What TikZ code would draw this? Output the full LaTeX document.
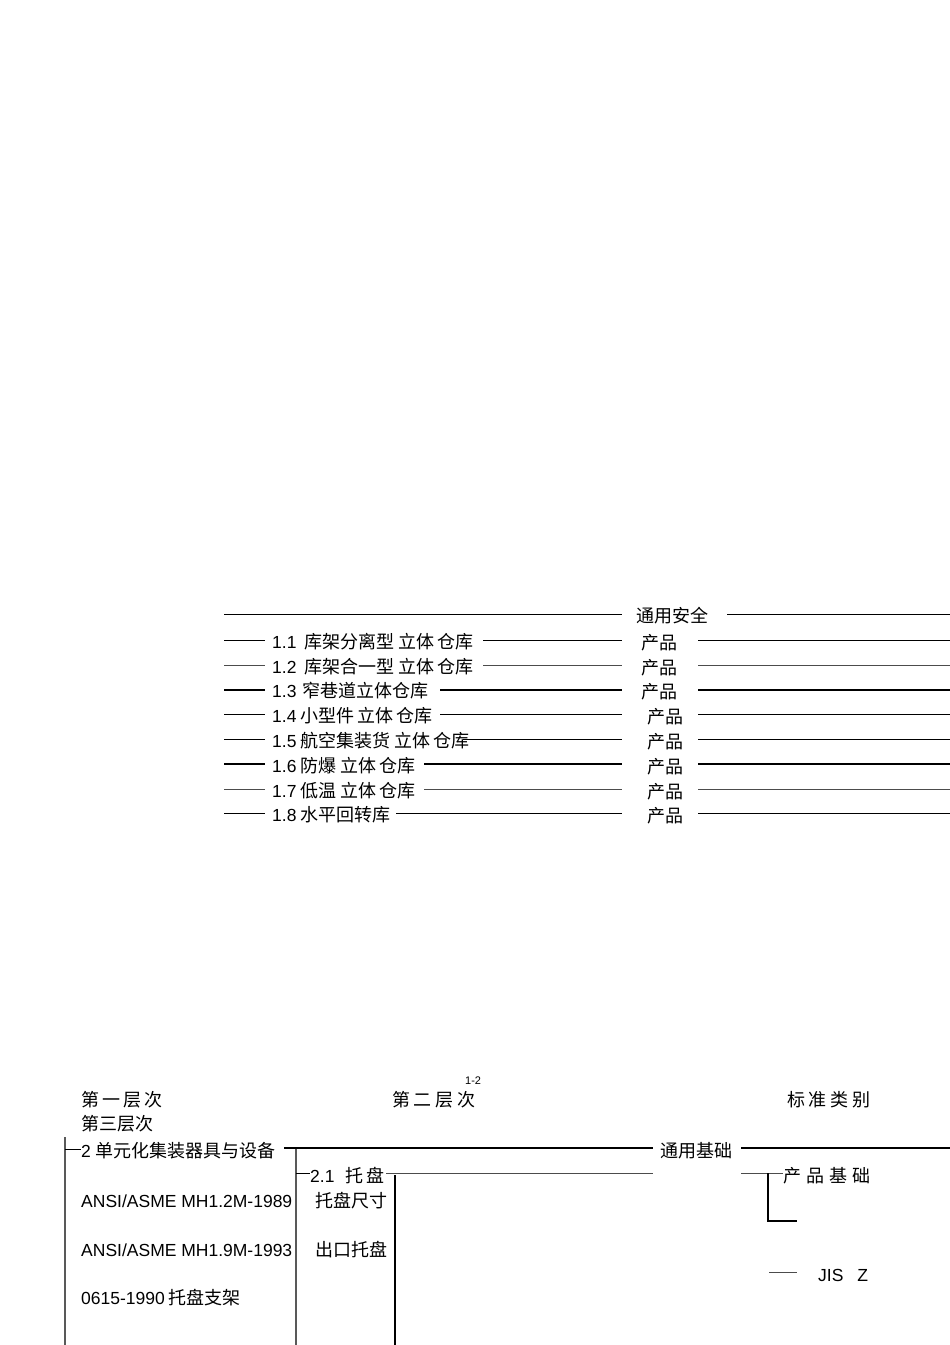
\documentclass[tikz,border=0pt]{standalone}
\usepackage{fontspec}
\usetikzlibrary{calc}
\setmainfont{Liberation Sans}
\newfontfamily\cjkf{Noto Sans CJK SC}
\newcommand\zh[1]{{\cjkf\fontsize{18}{20}\selectfont #1}}
\newcommand\gp[1]{\hspace{#1pt}}
\begin{document}
\begin{tikzpicture}[x=1pt,y=-1pt,
  every node/.style={inner sep=0pt,anchor=west,text height=13.6pt,text depth=0pt,
    font=\fontsize{17.5}{20}\selectfont},
  ln/.style={line width=0.8pt,black},
  lngray/.style={line width=1pt,black!70},
  lnthick/.style={line width=1.6pt,black},
  lnvgray/.style={line width=1.1pt,black!65},
  small/.style={font=\fontsize{11}{13}\selectfont,text height=8pt}]
\useasboundingbox[fill=white] (0,0) rectangle (950,1345);

% ---------- upper block ----------
\node (top) at (636,616) {\zh{通用安全}};
\coordinate (t0) at (224,614); \coordinate (t1) at (622,614);
\coordinate (t2) at (727,614); \coordinate (t3) at (950,614);
\draw[ln] (t0) -- (t1);
\draw[ln] (t2) -- (t3);

% rows: label node r, product node p
\node (r1) at (272,642) {1.1\gp{8}\zh{库架分离型}\gp{4}\zh{立体}\gp{3}\zh{仓库}};
\node (r2) at (272,667) {1.2\gp{8}\zh{库架合一型}\gp{4}\zh{立体}\gp{3}\zh{仓库}};
\node (r3) at (272,691) {1.3\gp{6}\zh{窄巷道立体仓库}};
\node (r4) at (272,716) {1.4\gp{4}\zh{小型件}\gp{3}\zh{立体}\gp{3}\zh{仓库}};
\node (r5) at (272,741) {1.5\gp{4}\zh{航空集装货}\gp{4}\zh{立体}\gp{3}\zh{仓库}};
\node (r6) at (272,766) {1.6\gp{4}\zh{防爆}\gp{4}\zh{立体}\gp{3}\zh{仓库}};
\node (r7) at (272,791) {1.7\gp{4}\zh{低温}\gp{4}\zh{立体}\gp{3}\zh{仓库}};
\node (r8) at (272,815) {1.8\gp{4}\zh{水平回转库}};

\node (p1) at (641,643) {\zh{产品}};
\node (p2) at (641,668) {\zh{产品}};
\node (p3) at (641,692) {\zh{产品}};
\node (p4) at (647,717) {\zh{产品}};
\node (p5) at (647,742) {\zh{产品}};
\node (p6) at (647,767) {\zh{产品}};
\node (p7) at (647,792) {\zh{产品}};
\node (p8) at (647,816) {\zh{产品}};

\foreach \k/\y/\m/\s in {1/640/483/ln,2/665/483/lngray,3/690/440/lnthick,4/714/440/ln,
                        5/739/463/ln,6/764/424/lnthick,7/789/424/lngray,8/813/396/ln}{
  \coordinate (L\k) at (224,\y);
  \coordinate (M\k) at (\m,\y);
  \coordinate (N\k) at (622,\y);
  \coordinate (O\k) at (698,\y);
  \coordinate (E\k) at (950,\y);
  \draw[\s] (L\k) -- ($(r\k.west |- L\k)+(-7,0)$);
  \draw[\s] (M\k) -- (N\k);
  \draw[\s] (O\k) -- (E\k);
}

% ---------- lower block ----------
\node[small] (num) at (465,1080) {1-2};
\node (h1) at (81,1100) {\zh{第\gp{3}一\gp{3}层\gp{3}次}};
\node (h2) at (392,1100) {\zh{第\gp{3.7}二\gp{3.7}层\gp{3.7}次}};
\node (h3) at (787,1100) {\zh{标\gp{3.7}准\gp{3.7}类\gp{3.7}别}};
\node (h4) at (81,1124) {\zh{第三层次}};

\node (u2) at (81,1151) {2\gp{5}\zh{单元化集装器具与设备}};
\node (g1) at (660,1151) {\zh{通用基础}};
\node (u21) at (310,1176) {2.1\gp{11}\zh{托}\gp{3}\zh{盘}};
\node (g2) at (783,1176) {\zh{产\gp{5.2}品\gp{5.2}基\gp{5.2}础}};

\node (a1) at (81,1201) {ANSI/ASME MH1.2M-1989};
\node (b1) at (315,1201) {\zh{托盘尺寸}};
\node (a2) at (81,1250) {ANSI/ASME MH1.9M-1993};
\node (b2) at (315,1250) {\zh{出口托盘}};
\node (a3) at (81,1298) {0615-1990\gp{4}\zh{托盘支架}};
\node (jis) at (818,1275) {JIS\gp{14}Z};

% vertical spines
\coordinate (v1t) at (65,1137);  \coordinate (v1b) at (65,1345);
\coordinate (v2t) at (296,1148); \coordinate (v2b) at (296,1345);
\coordinate (v3t) at (395,1175); \coordinate (v3b) at (395,1345);
\draw[lnvgray] (v1t) -- (v1b);
\draw[lnvgray] (v2t) -- (v2b);
\draw[lnthick] (v3t) -- (v3b);

% ticks into labels
\coordinate (k1) at (65,1149);
\coordinate (k2) at (296,1173);
\draw[ln] (k1) -- (k1 -| u2.west);
\draw[ln] (k2) -- (k2 -| u21.west);

% horizontal links
\coordinate (w1) at (284,1148); \coordinate (w2) at (653,1148);
\coordinate (w3) at (741,1148); \coordinate (w4) at (950,1148);
\draw[lnthick] (w1) -- (w2);
\draw[lnthick] (w3) -- (w4);

\coordinate (x1) at (386,1173); \coordinate (x2) at (653,1173);
\coordinate (x3) at (741,1173); \coordinate (x4) at (783,1173);
\draw[lngray] (x1) -- (x2);
\draw[lngray] (x3) -- (x4);

\coordinate (y1) at (768,1173); \coordinate (y2) at (768,1221); \coordinate (y3) at (797,1221);
\draw[lnthick] (y1) -- (y2) -- (y3);

\coordinate (z1) at (769,1272); \coordinate (z2) at (797,1272);
\draw[lngray] (z1) -- (z2);
\end{tikzpicture}
\end{document}
